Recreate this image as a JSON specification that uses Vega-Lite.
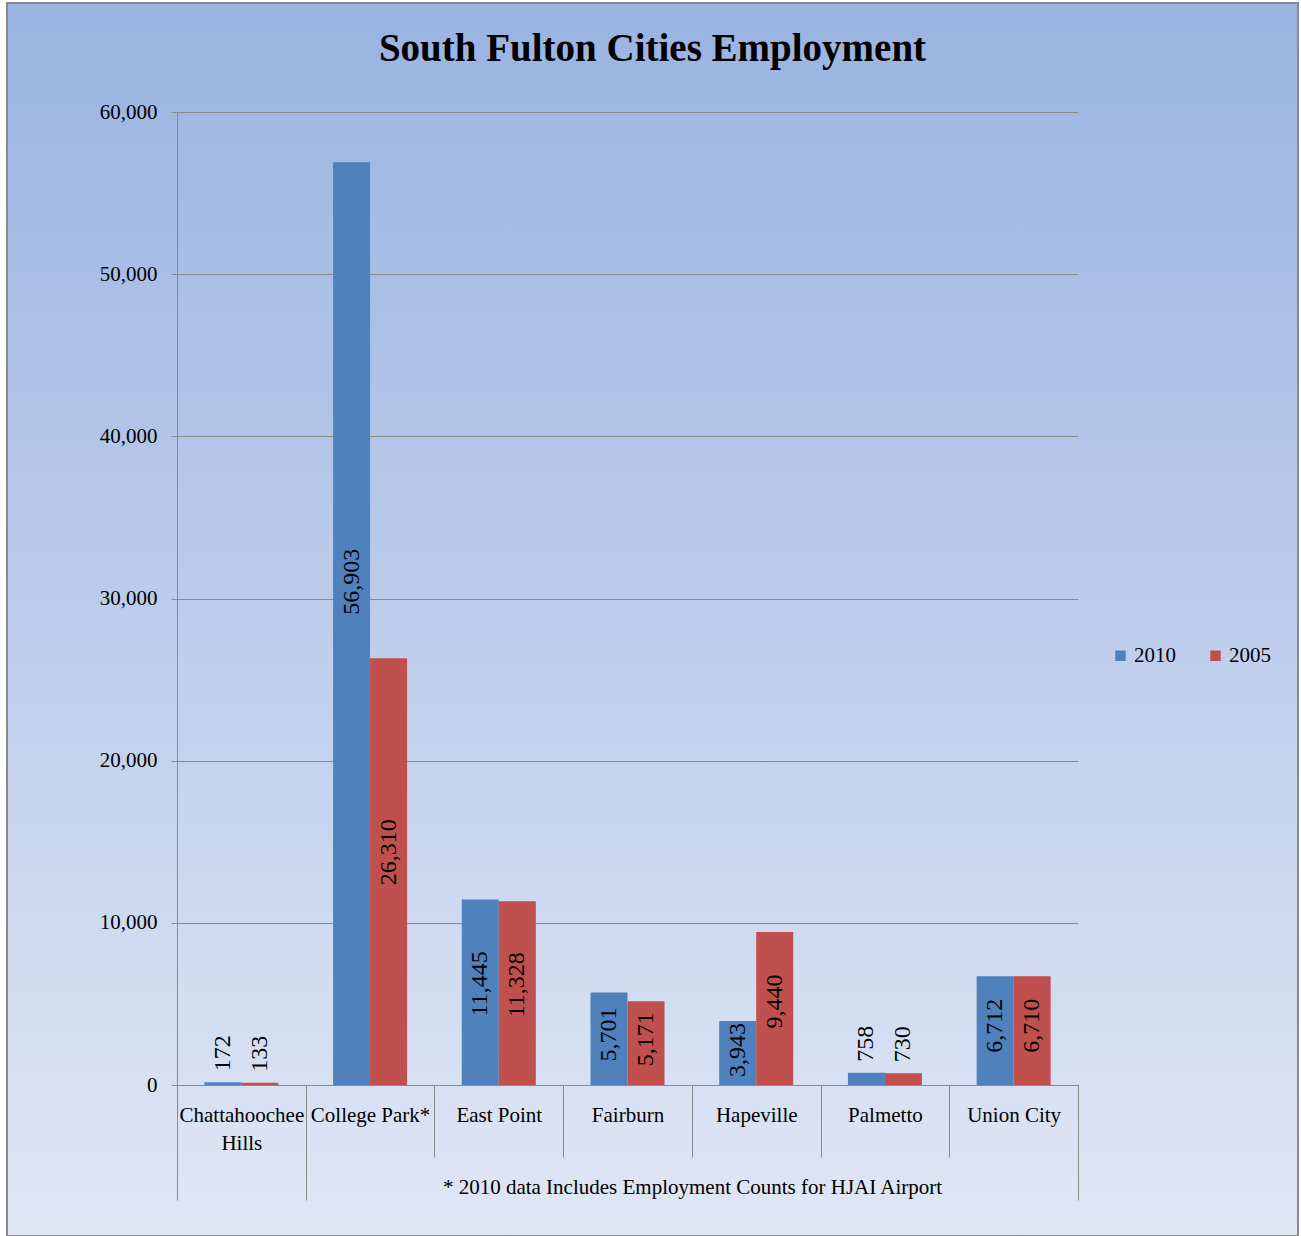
{
  "$schema": "https://vega.github.io/schema/vega-lite/v6.json",
  "width": 1291,
  "height": 1233,
  "autosize": {"type": "none"},
  "padding": {"left": 7, "top": 3, "right": 3, "bottom": 0},
  "background": "#ffffff",
  "view": {
    "fill": {
      "gradient": "linear",
      "x1": 0, "y1": 0, "x2": 0, "y2": 1,
      "stops": [
        {"offset": 0, "color": "#99B3E2"},
        {"offset": 1, "color": "#E0E7F5"}
      ]
    },
    "stroke": "#8a8a8a",
    "strokeWidth": 2
  },
  "title": {
    "text": "South Fulton Cities Employment",
    "font": "Liberation Serif",
    "fontSize": 39,
    "fontWeight": "bold",
    "color": "#000000",
    "anchor": "middle",
    "offset": -66
  },
  "data": {
    "values": [
      {"city": "Chattahoochee Hills", "year": "2010", "value": 172},
      {"city": "Chattahoochee Hills", "year": "2005", "value": 133},
      {"city": "College Park*", "year": "2010", "value": 56903},
      {"city": "College Park*", "year": "2005", "value": 26310},
      {"city": "East Point", "year": "2010", "value": 11445},
      {"city": "East Point", "year": "2005", "value": 11328},
      {"city": "Fairburn", "year": "2010", "value": 5701},
      {"city": "Fairburn", "year": "2005", "value": 5171},
      {"city": "Hapeville", "year": "2010", "value": 3943},
      {"city": "Hapeville", "year": "2005", "value": 9440},
      {"city": "Palmetto", "year": "2010", "value": 758},
      {"city": "Palmetto", "year": "2005", "value": 730},
      {"city": "Union City", "year": "2010", "value": 6712},
      {"city": "Union City", "year": "2005", "value": 6710}
    ]
  },
  "encoding": {
    "x": {
      "field": "city",
      "type": "nominal",
      "sort": null,
      "scale": {"range": [170, 1071], "paddingInner": 0, "paddingOuter": 0},
      "axis": {
        "orient": "bottom",
        "offset": -151,
        "title": "* 2010 data Includes Employment Counts for HJAI Airport",
        "titleFont": "Liberation Serif",
        "titleFontSize": 21,
        "titleFontWeight": "normal",
        "titleColor": "#000000",
        "titleX": 685,
        "titleY": 102,
        "titleBaseline": "middle",
        "titleAlign": "center",
        "domainColor": "#8a8a8a",
        "tickBand": "extent",
        "tickColor": "#8a8a8a",
        "tickSize": {"condition": {"test": "datum.value === 'Chattahoochee Hills' || datum.value === 'Union City' || datum.value == null", "value": 115}, "value": 72},
        "labelPadding": {"condition": {"test": "datum.value === 'Chattahoochee Hills' || datum.value === 'Union City' || datum.value == null", "value": -96}, "value": -53},
        "labelAngle": 0,
        "labelFont": "Liberation Serif",
        "labelFontSize": 21,
        "labelColor": "#000000",
        "labelLineHeight": 28,
        "labelExpr": "datum.value == 'Chattahoochee Hills' ? ['Chattahoochee', 'Hills'] : datum.label"
      }
    },
    "xOffset": {
      "field": "year",
      "type": "nominal",
      "sort": ["2010", "2005"],
      "scale": {"paddingOuter": 0.739, "paddingInner": 0}
    }
  },
  "layer": [
    {
      "mark": {"type": "bar"},
      "encoding": {
        "y": {
          "field": "value",
          "type": "quantitative",
          "scale": {"domain": [0, 60000], "range": [1082, 109], "nice": false},
          "axis": {
            "orient": "left",
            "offset": -170,
            "title": null,
            "values": [0, 10000, 20000, 30000, 40000, 50000, 60000],
            "format": ",.0f",
            "grid": true,
            "gridColor": "#8a8a8a",
            "gridWidth": 1,
            "domainColor": "#8a8a8a",
            "tickColor": "#8a8a8a",
            "tickSize": 6,
            "labelPadding": 14,
            "labelFont": "Liberation Serif",
            "labelFontSize": 21,
            "labelColor": "#000000"
          }
        },
        "color": {
          "field": "year",
          "type": "nominal",
          "scale": {"domain": ["2010", "2005"], "range": ["#4F81BD", "#C0504D"]},
          "legend": {
            "orient": "none",
            "legendX": 1103,
            "legendY": 642,
            "direction": "horizontal",
            "title": null,
            "symbolType": "square",
            "symbolSize": 110,
            "symbolStrokeWidth": 0,
            "labelFont": "Liberation Serif",
            "labelFontSize": 21,
            "labelColor": "#000000",
            "labelOffset": 3,
            "columnPadding": 29
          }
        }
      }
    },
    {
      "transform": [{"filter": "datum.value >= 2000"}],
      "mark": {"type": "text", "angle": 270, "align": "center", "baseline": "middle", "font": "Liberation Serif", "fontSize": 24, "color": "#000000"},
      "encoding": {
        "y": {
          "field": "value",
          "type": "quantitative",
          "scale": {"domain": [0, 110000], "range": [1082, 109], "nice": false},
          "axis": null
        },
        "text": {"field": "value", "type": "quantitative", "format": ","}
      }
    },
    {
      "transform": [{"filter": "datum.value < 2000"}],
      "mark": {"type": "text", "angle": 270, "align": "left", "baseline": "middle", "dx": 11, "font": "Liberation Serif", "fontSize": 24, "color": "#000000"},
      "encoding": {
        "y": {
          "field": "value",
          "type": "quantitative",
          "scale": {"domain": [0, 60000], "range": [1082, 109], "nice": false},
          "axis": null
        },
        "text": {"field": "value", "type": "quantitative", "format": ","}
      }
    }
  ],
  "resolve": {"scale": {"y": "independent"}}
}
